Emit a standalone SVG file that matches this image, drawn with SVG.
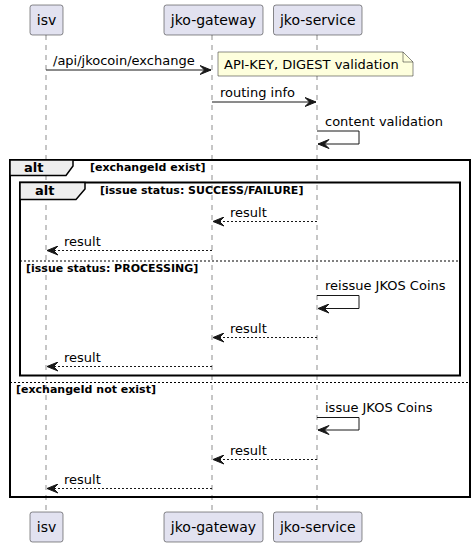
<svg xmlns="http://www.w3.org/2000/svg" width="474" height="547" viewBox="0 0 474 547">
<style>
.p{fill:#E2E2F0;stroke:#181818;stroke-width:0.5}
.pt{font-family:"DejaVu Sans",sans-serif;font-size:14px;fill:#000;text-anchor:middle}
.ll{stroke:#181818;stroke-width:0.5;stroke-dasharray:5,5;fill:none}
.m{stroke:#181818;stroke-width:1;fill:none;marker-end:url(#ah)}
.r{stroke:#181818;stroke-width:1;fill:none;stroke-dasharray:2,2;marker-end:url(#ah)}
.mt{font-family:"DejaVu Sans",sans-serif;font-size:13px;fill:#000}
.fr{fill:none;stroke:#000;stroke-width:2}
.tab{fill:#EEEEEE;stroke:#000;stroke-width:1.5}
.ft{font-family:"DejaVu Sans",sans-serif;font-size:13px;font-weight:bold;fill:#000}
.ct{font-family:"DejaVu Sans",sans-serif;font-size:11px;font-weight:bold;fill:#000}
.sep{stroke:#000;stroke-width:1;stroke-dasharray:2,2}
</style>
<defs>
<marker id="ah" viewBox="0 0 12 10" refX="11.5" refY="5" markerWidth="12" markerHeight="10" markerUnits="userSpaceOnUse" orient="auto">
<path d="M0.5,0.5 L11.5,5 L0.5,9.5 L5,5 Z" fill="#181818" stroke="#181818" stroke-width="1" stroke-linejoin="miter"/>
</marker>
</defs>
<g id="lifelines">
<line class="ll" x1="46" y1="35" x2="46" y2="512"/>
<line class="ll" x1="212" y1="35" x2="212" y2="512"/>
<line class="ll" x1="317" y1="35" x2="317" y2="512"/>
</g>
<g id="frame-outer">
<rect class="fr" x="10" y="160" width="460" height="337"/>
<path class="tab" d="M10,160 L73,160 L73,166 L66,175.5 L10,175.5 Z"/>
<text class="ft" x="24" y="172">alt</text>
<text class="ct" x="90" y="171">[exchangeId exist]</text>
<line class="sep" x1="10" y1="382.5" x2="470" y2="382.5"/>
<text class="ct" x="16" y="393">[exchangeId not exist]</text>
</g>
<g id="frame-inner">
<rect class="fr" x="20" y="182.5" width="440" height="193"/>
<path class="tab" d="M20,182.5 L85,182.5 L85,189 L76,199.5 L20,199.5 Z"/>
<text class="ft" x="35" y="195">alt</text>
<text class="ct" x="100" y="194">[issue status: SUCCESS/FAILURE]</text>
<line class="sep" x1="20" y1="261" x2="460" y2="261"/>
<text class="ct" x="26" y="272">[issue status: PROCESSING]</text>
</g>
<g id="isv">
<rect class="p" x="30" y="5" width="33" height="30" rx="2.5"/>
<text class="pt" x="46.5" y="25">isv</text>
<rect class="p" x="30" y="512" width="33" height="30" rx="2.5"/>
<text class="pt" x="46.5" y="532">isv</text>
</g>
<g id="jko-gateway">
<rect class="p" x="164" y="5" width="99" height="30" rx="2.5"/>
<text class="pt" x="213.5" y="25">jko-gateway</text>
<rect class="p" x="164" y="512" width="99" height="30" rx="2.5"/>
<text class="pt" x="213.5" y="532">jko-gateway</text>
</g>
<g id="jko-service">
<rect class="p" x="273.5" y="5" width="88.5" height="30" rx="2.5"/>
<text class="pt" x="317.75" y="25">jko-service</text>
<rect class="p" x="273.5" y="512" width="88.5" height="30" rx="2.5"/>
<text class="pt" x="317.75" y="532">jko-service</text>
</g>
<g id="note">
<path d="M218,52 L403,52 L413,62 L413,76 L218,76 Z" fill="#FEFFDD" stroke="#181818" stroke-width="0.5"/>
<path d="M403,52 L403,62 L413,62" fill="none" stroke="#181818" stroke-width="0.5"/>
<text class="mt" x="224" y="68.5">API-KEY, DIGEST validation</text>
</g>
<g id="connectors">
<line class="m" x1="46" y1="70" x2="211" y2="70"/>
<text class="mt" x="53" y="65">/api/jkocoin/exchange</text>
<line class="m" x1="212" y1="102" x2="316" y2="102"/>
<text class="mt" x="220" y="97">routing info</text>
<polyline class="m" points="317,131 359,131 359,144 318,144"/>
<text class="mt" x="325" y="126">content validation</text>
<line class="r" x1="317" y1="221.5" x2="213" y2="221.5"/>
<text class="mt" x="230" y="217">result</text>
<line class="r" x1="212" y1="250.5" x2="47" y2="250.5"/>
<text class="mt" x="64" y="246">result</text>
<polyline class="m" points="317,295.5 359,295.5 359,308.5 318,308.5"/>
<text class="mt" x="325" y="290">reissue JKOS Coins</text>
<line class="r" x1="317" y1="337.5" x2="213" y2="337.5"/>
<text class="mt" x="230" y="333">result</text>
<line class="r" x1="212" y1="366.5" x2="47" y2="366.5"/>
<text class="mt" x="64" y="362">result</text>
<polyline class="m" points="317,417.5 359,417.5 359,430 318,430"/>
<text class="mt" x="325" y="412">issue JKOS Coins</text>
<line class="r" x1="317" y1="459.5" x2="213" y2="459.5"/>
<text class="mt" x="230" y="455">result</text>
<line class="r" x1="212" y1="488.5" x2="47" y2="488.5"/>
<text class="mt" x="64" y="484">result</text>
</g>
</svg>
